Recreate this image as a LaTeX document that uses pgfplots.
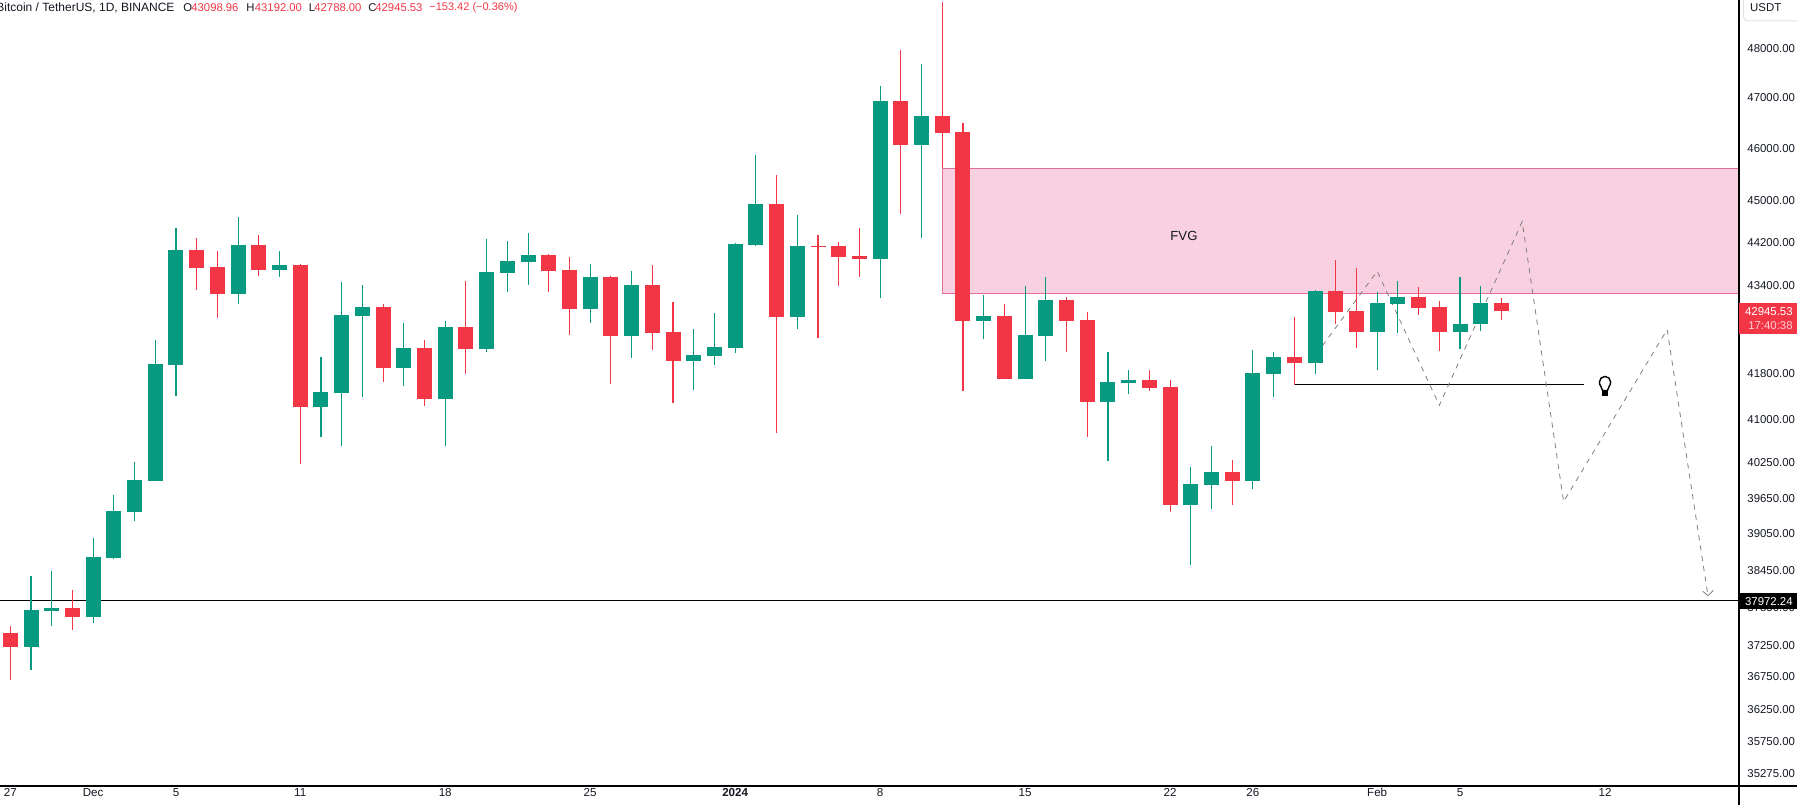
\documentclass[border=0pt]{standalone}
\usepackage{fontspec}
\setmainfont{Liberation Sans}
\usepackage{pgfplots}
\pgfplotsset{compat=1.18}

\definecolor{tvred}{HTML}{F23645}
\definecolor{tvgreen}{HTML}{089981}
\definecolor{tvtext}{HTML}{131722}
\definecolor{fvgfill}{HTML}{F9D0DF}
\definecolor{fvgline}{HTML}{E36D9C}
\definecolor{pathgrey}{HTML}{7F7F7F}
\definecolor{pillline}{HTML}{E0E3EB}

% colour, day, open, high, low, close
\newcommand{\candle}[6]{%
  \addplot[#1, line width=0.55pt] coordinates {(#2,#5) (#2,#4)};
  \addplot[#1, line width=7.5pt] coordinates {(#2,#3) (#2,#6)};
}
\newcommand{\up}{\candle{tvgreen}}
\newcommand{\dn}{\candle{tvred}}

\begin{document}
\begin{tikzpicture}[every node/.style={inner sep=0pt}]
\useasboundingbox (0pt,-9.5pt) rectangle (898.5pt,393pt);
\begin{axis}[
  at={(0pt,0pt)}, anchor=south west,
  width=869.5pt, height=393pt, scale only axis,
  ymode=log,
  xmin=-0.497, xmax=83.47,
  ymin=35104, ymax=49020,
  axis line style={draw=none},
  tick style={draw=none},
  minor tick num=0,
  xtick={0,4,8,14,21,28,35,42,49,56,60,66,70,77},
  xticklabels={27,Dec,5,11,18,25,\textbf{2024},8,15,22,26,Feb,5,12},
  xticklabel style={font=\fontsize{5.8pt}{7pt}\selectfont, text=tvtext, yshift=-1.2pt},
  ytick={48000,47000,46000,45000,44200,43400,41800,41000,40250,39650,39050,38450,37850,37250,36750,36250,35750,35275},
  yticklabels={48000.00,47000.00,46000.00,45000.00,44200.00,43400.00,41800.00,41000.00,40250.00,39650.00,39050.00,38450.00,37850.00,37250.00,36750.00,36250.00,35750.00,35275.00},
  yticklabel pos=right,
  yticklabel style={font=\fontsize{5.7pt}{7pt}\selectfont, text=tvtext, anchor=west, xshift=4pt, yshift=0.5pt},
]
% fair value gap
\addplot[draw=fvgline, fill=fvgfill, line width=0.5pt] coordinates {(45,43261) (45,45621) (90,45621) (90,43261)} -- cycle;
% levels
\addplot[black, line width=0.5pt] coordinates {(-1,37972.24) (90,37972.24)};
\addplot[black, line width=0.5pt] coordinates {(62,41620) (76,41620)};
% projected path
\addplot[pathgrey, line width=0.4pt, dash pattern=on 2.6pt off 2.6pt] coordinates {
  (62.76,42017) (66,43679) (69,41261) (73,44611) (75,39612) (80,42611) (81.97,38061)};
\addplot[pathgrey, line width=0.4pt] coordinates {(81.72,38127) (81.97,38061) (82.23,38143)};

% day, open, high, low, close
\dn{0}{37464}{37576}{36724}{37241}
\up{1}{37241}{38383}{36880}{37831}
\up{2}{37815}{38464}{37576}{37863}
\dn{3}{37863}{38154}{37512}{37720}
\up{4}{37720}{39007}{37624}{38693}
\up{5}{38676}{39725}{38660}{39457}
\up{6}{39440}{40270}{39290}{39980}
\up{7}{39963}{42429}{39963}{41999}
\up{8}{41982}{44497}{41431}{44081}
\dn{9}{44081}{44308}{43340}{43748}
\dn{10}{43766}{44062}{42828}{43266}
\up{11}{43266}{44705}{43082}{44176}
\dn{12}{44176}{44365}{43599}{43711}
\up{13}{43711}{44062}{43581}{43803}
\dn{14}{43803}{43822}{40236}{41238}
\up{15}{41238}{42124}{40700}{41502}
\up{16}{41484}{43488}{40560}{42883}
\up{17}{42865}{43433}{41413}{43028}
\dn{18}{43028}{43082}{41680}{41928}
\up{19}{41928}{42738}{41609}{42284}
\dn{20}{42284}{42429}{41256}{41378}
\up{21}{41378}{42774}{40560}{42665}
\dn{22}{42665}{43507}{41822}{42266}
\up{23}{42266}{44289}{42212}{43674}
\up{24}{43655}{44251}{43303}{43877}
\up{25}{43859}{44403}{43433}{43988}
\dn{26}{43988}{44007}{43303}{43692}
\dn{27}{43711}{43951}{42520}{42992}
\up{28}{42992}{43822}{42738}{43581}
\dn{29}{43581}{43599}{41644}{42502}
\up{30}{42502}{43692}{42106}{43433}
\dn{31}{43433}{43803}{42248}{42556}
\dn{32}{42574}{43119}{41308}{42053}
\up{33}{42053}{42629}{41537}{42159}
\up{34}{42141}{42919}{41982}{42303}
\up{35}{42284}{44214}{42195}{44195}
\up{36}{44176}{45897}{44157}{44951}
\dn{37}{44951}{45510}{40769}{42847}
\up{38}{42847}{44743}{42629}{44157}
\dn{39}{44157}{44365}{42466}{44138}
\dn{40}{44157}{44232}{43414}{43951}
\dn{41}{43970}{44497}{43581}{43914}
\up{42}{43914}{47264}{43192}{46961}
\dn{43}{46961}{47990}{44762}{46093}
\up{44}{46093}{47707}{44308}{46665}
\dn{45}{46665}{48978}{45646}{46330}
\dn{46}{46349}{46527}{41520}{42774}
\up{47}{42774}{43248}{42447}{42865}
\dn{48}{42865}{43082}{41733}{41733}
\up{49}{41733}{43414}{41733}{42520}
\up{50}{42502}{43581}{42053}{43155}
\dn{51}{43155}{43211}{42212}{42774}
\dn{52}{42792}{42937}{40700}{41325}
\up{53}{41325}{42212}{40287}{41680}
\up{54}{41662}{41893}{41467}{41715}
\dn{55}{41715}{41893}{41520}{41573}
\dn{56}{41591}{41698}{39440}{39557}
\up{57}{39557}{40185}{38562}{39912}
\up{58}{39896}{40560}{39490}{40100}
\dn{59}{40100}{40304}{39557}{39963}
\up{60}{39963}{42248}{39827}{41840}
\up{61}{41822}{42212}{41413}{42124}
\dn{62}{42124}{42847}{41626}{42017}
\up{63}{42017}{43340}{41822}{43322}
\dn{64}{43322}{43896}{42702}{42937}
\dn{65}{42955}{43748}{42284}{42574}
\up{66}{42574}{43303}{41893}{43101}
\up{67}{43082}{43507}{42556}{43211}
\dn{68}{43211}{43396}{42883}{43010}
\dn{69}{43028}{43137}{42230}{42574}
\up{70}{42574}{43581}{42266}{42720}
\up{71}{42702}{43414}{42593}{43101}
\dn{72}{43098.96}{43192}{42788}{42945.53}

\node[text=tvtext, font=\fontsize{6.6pt}{8pt}\selectfont] at (axis cs:56.67,44346) {FVG};
\end{axis}

% scale frame
\draw[black, line width=0.55pt] (869.5pt,-9.5pt) -- (869.5pt,393pt);
\draw[black, line width=0.55pt] (0pt,0pt) -- (898.5pt,0pt);

% bulb icon on the level line
\draw[black, line width=0.7pt, line join=round] (801.3pt,197.7pt)
  .. controls (801.1pt,199.6pt) and (799.7pt,200pt) .. (799.7pt,202pt)
  arc[start angle=180, end angle=0, radius=2.8pt]
  .. controls (805.3pt,200pt) and (803.9pt,199.6pt) .. (803.7pt,197.7pt) -- cycle;
\fill[black] (801.2pt,195.2pt) rectangle (803.8pt,197.4pt);

% price tags
\fill[tvred] (869.5pt,226.15pt) rectangle (898.5pt,241.5pt);
\node[anchor=east, text=white, font=\fontsize{5.7pt}{7pt}\selectfont] at (896.5pt,237.15pt) {42945.53};
\node[anchor=east, text=white!75!tvred, font=\fontsize{5.7pt}{7pt}\selectfont] at (896.5pt,230.15pt) {17:40:38};
\fill[black] (869.5pt,88.35pt) rectangle (898.5pt,96.35pt);
\node[anchor=east, text=white, font=\fontsize{5.7pt}{7pt}\selectfont] at (896.5pt,92.35pt) {37972.24};
\draw[pillline, fill=white, line width=0.5pt, rounded corners=2pt] (871.7pt,382.6pt) rectangle (905pt,400pt);
\node[text=tvtext, font=\fontsize{5.7pt}{7pt}\selectfont] at (882.85pt,389pt) {USDT};

% legend line
\begin{scope}[every node/.append style={anchor=west, font=\fontsize{5.65pt}{7pt}\selectfont, text=tvtext}]
\node[font=\fontsize{6pt}{7pt}\selectfont] at (-2pt,389.2pt) {Bitcoin / TetherUS, 1D, BINANCE};
\node at (91.5pt,389.2pt) {O};
\node[text=tvred] at (95.5pt,389.2pt) {43098.96};
\node at (123pt,389.2pt) {H};
\node[text=tvred] at (127.25pt,389.2pt) {43192.00};
\node at (154.25pt,389.2pt) {L};
\node[text=tvred] at (157pt,389.2pt) {42788.00};
\node at (184pt,389.2pt) {C};
\node[text=tvred] at (187.5pt,389.2pt) {42945.53};
\node[text=tvred, font=\fontsize{5.5pt}{7pt}\selectfont] at (214.5pt,389.2pt) {−153.42 (−0.36\%)};
\end{scope}
\end{tikzpicture}
\end{document}
